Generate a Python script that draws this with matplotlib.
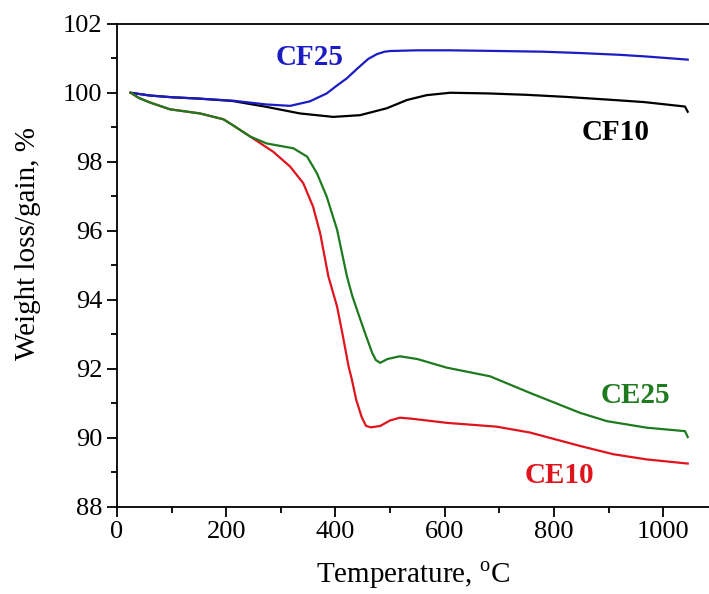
import numpy as np
import matplotlib
matplotlib.use("Agg")
import matplotlib.pyplot as plt
from matplotlib.ticker import MultipleLocator

plt.rcParams['font.family'] = ['Liberation Serif', 'DejaVu Serif']
plt.rcParams['mathtext.fontset'] = 'custom'
plt.rcParams['mathtext.rm'] = 'Liberation Serif'

# CF25 (blue)
t_cf25 = [25, 60, 100, 150, 212, 274, 317, 353, 384, 402, 421, 440, 460, 476, 490, 500, 549, 610, 700, 780,
          850, 920, 970, 1045]
w_cf25 = [100.0, 99.92, 99.87, 99.83, 99.77, 99.66, 99.62, 99.75, 99.98, 100.2, 100.42, 100.7, 100.98, 101.12,
          101.19, 101.21, 101.23, 101.23, 101.21, 101.19, 101.15, 101.1, 101.05, 100.96]

# CF10 (black)
t_cf10 = [25, 60, 100, 150, 212, 274, 335, 396, 445, 494, 531, 567, 610, 680, 750, 822, 900, 965, 1040, 1045]
w_cf10 = [100.0, 99.92, 99.87, 99.83, 99.76, 99.59, 99.40, 99.30, 99.35, 99.55, 99.79, 99.93, 100.0, 99.98,
          99.94, 99.88, 99.8, 99.73, 99.6, 99.45]

# CE25 (green)
t_ce25 = [25, 40, 60, 97, 152, 195, 212, 244, 274, 323, 348, 366, 384, 403, 421, 431, 452, 467, 474, 482, 495,
          518, 550, 604, 683, 756, 848, 897, 970, 1040, 1045]
w_ce25 = [100.0, 99.85, 99.72, 99.52, 99.40, 99.23, 99.06, 98.73, 98.53, 98.39, 98.15, 97.67, 96.99, 96.03,
          94.68, 94.1, 93.13, 92.47, 92.25, 92.17, 92.28, 92.36, 92.28, 92.03, 91.78, 91.30, 90.72, 90.48, 90.29,
          90.19, 90.02]

# CE10 (red)
t_ce10 = [25, 40, 60, 97, 152, 195, 212, 244, 286, 317, 341, 359, 372, 387, 403, 413, 424, 430, 438, 448, 456,
          465, 482, 500, 518, 540, 604, 695, 756, 848, 909, 970, 1045]
w_ce10 = [100.0, 99.85, 99.72, 99.52, 99.40, 99.23, 99.06, 98.73, 98.29, 97.86, 97.38, 96.70, 95.93, 94.68,
          93.8, 93.0, 92.07, 91.69, 91.1, 90.6, 90.34, 90.3, 90.34, 90.5, 90.58, 90.55, 90.43, 90.32, 90.15, 89.76,
          89.52, 89.37, 89.25]

fig = plt.figure(figsize=(7.09, 5.94), dpi=100)
ax = fig.add_axes([0.165, 0.147, 0.835, 0.813])

ax.plot(t_cf10, w_cf10, color='black', lw=1.6)
ax.plot(t_cf25, w_cf25, color='#1c1cc4', lw=1.6)
ax.plot(t_ce10, w_ce10, color='#e0141c', lw=1.6)
ax.plot(t_ce25, w_ce25, color='#1e7a1e', lw=1.6)

lab = dict(fontsize=21, fontweight='bold', ha='center', va='baseline')
ax.text(352, 100.80, 'CF25', color='#1c1cc4', **lab)
ax.text(913, 98.63, 'CF10', color='black', **lab)
ax.text(950, 91.02, 'CE25', color='#1e7a1e', **lab)
ax.text(811, 88.68, 'CE10', color='#e0141c', **lab)

ax.set_xlim(0, 1084)
ax.set_ylim(88, 102)
ax.xaxis.set_major_locator(MultipleLocator(200))
ax.xaxis.set_minor_locator(MultipleLocator(100))
ax.yaxis.set_major_locator(MultipleLocator(2))
ax.yaxis.set_minor_locator(MultipleLocator(1))
ax.tick_params(which='major', direction='out', length=7, width=1.3, labelsize=19)
ax.tick_params(which='minor', direction='out', length=4, width=1.3)
ax.spines['right'].set_visible(False)
for s in ['left', 'bottom', 'top']:
    ax.spines[s].set_linewidth(1.3)

ax.set_xlabel('Temperature, $^{\\mathrm{o}}$C', fontsize=21, labelpad=12)
ax.set_ylabel('Weight loss/gain, %', fontsize=21)
ax.yaxis.set_label_coords(-0.128, 0.546)

fig.savefig('out.png', dpi=100)
